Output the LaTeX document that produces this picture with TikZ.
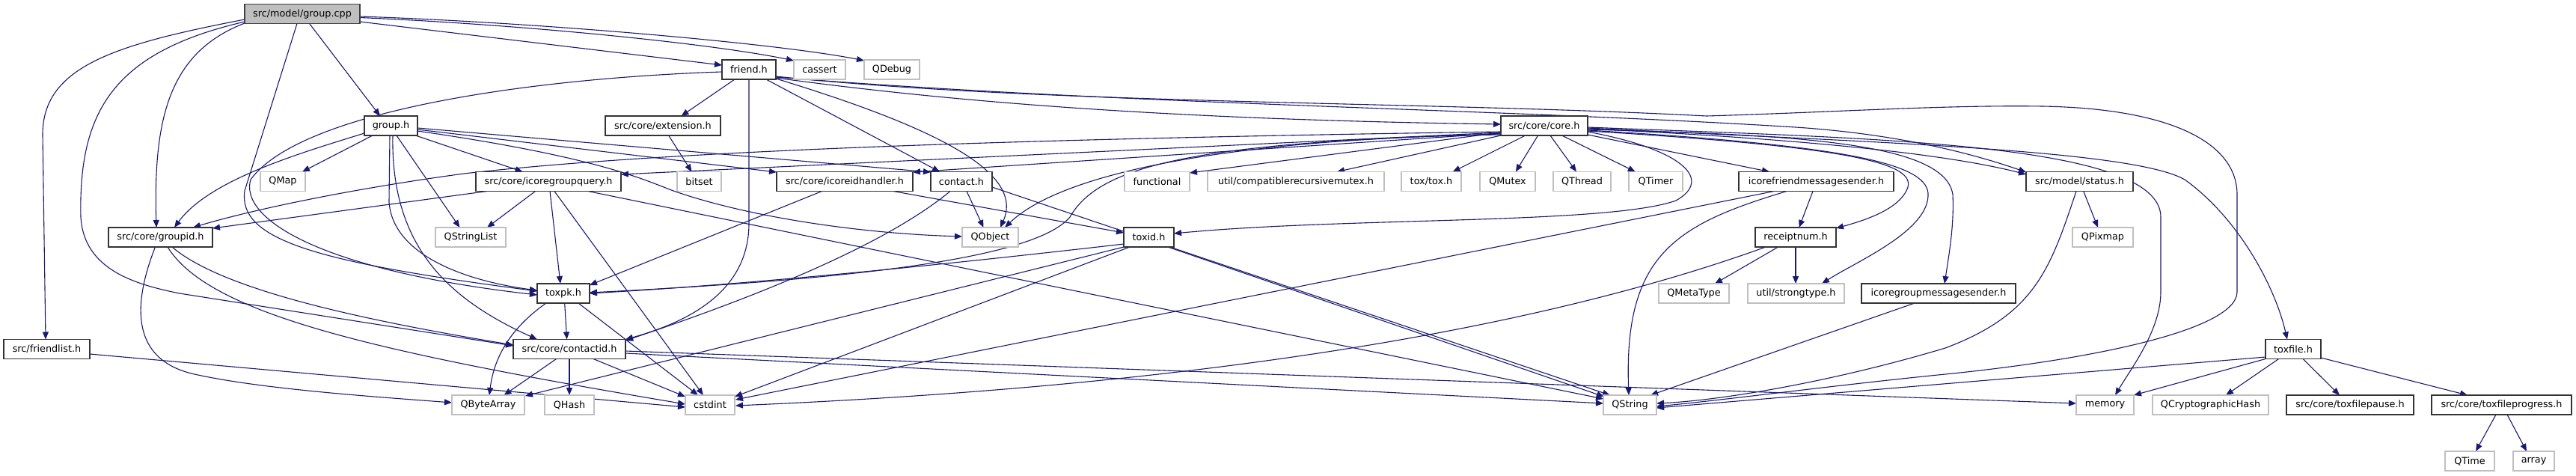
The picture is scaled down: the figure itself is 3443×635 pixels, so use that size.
\documentclass[tikz,border=0pt]{standalone}
\usepackage{fontspec}
\setmainfont{DejaVu Sans}
\usetikzlibrary{arrows.meta,calc}
\definecolor{edgec}{HTML}{191970}
\definecolor{extc}{HTML}{BFBFBF}
\definecolor{rootc}{HTML}{BFBFBF}
\pgfdeclarelayer{bg}
\pgfsetlayers{bg,main}
\begin{document}
\begin{tikzpicture}[x=1pt,y=-1pt,font=\fontsize{12.8}{15}\selectfont,
  box/.style={rectangle,minimum height=26pt,inner sep=0pt,outer sep=0pt,line width=1.4pt,text=black,fill=white},
  proj/.style={box,draw=black!80},
  extn/.style={box,draw=extc},
  root/.style={box,draw=black!75,fill=rootc},
  edge/.style={draw=edgec,line width=1.1pt,-{Triangle[length=10pt,width=8pt]}}]
\begin{pgfonlayer}{bg}
\fill[white] (0,0) rectangle (3443,635);
\end{pgfonlayer}
\useasboundingbox (0,0) rectangle (3443,635);
% row 0
\node[root,minimum width=154pt] (gcpp) at (404,18.5) {src/model/group.cpp};
% row 1
\node[proj,minimum width=72pt] (friendh) at (1001,93) {friend.h};
\node[extn,minimum width=69pt] (cassert) at (1095.5,93) {cassert};
\node[extn,minimum width=74pt] (qdebug) at (1192,93) {QDebug};
% row 2
\node[proj,minimum width=71pt] (grouph) at (522.5,168) {group.h};
\node[proj,minimum width=154pt] (ext) at (886,168) {src/core/extension.h};
\node[proj,minimum width=116pt] (core) at (2064,168) {src/core/core.h};
% row 3
\node[extn,minimum width=60pt] (qmap) at (378,242.5) {QMap};
\node[proj,minimum width=194pt] (icgq) at (733,242.5) {src/core/icoregroupquery.h};
\node[extn,minimum width=59pt] (bitset) at (934.5,242.5) {bitset};
\node[proj,minimum width=182pt] (icidh) at (1129,242.5) {src/core/icoreidhandler.h};
\node[proj,minimum width=82pt] (contact) at (1285,242.5) {contact.h};
\node[extn,minimum width=87pt] (functional) at (1546.5,242.5) {functional};
\node[extn,minimum width=236pt] (crm) at (1732,242.5) {util/compatiblerecursivemutex.h};
\node[extn,minimum width=80pt] (toxtox) at (1913,242.5) {tox/tox.h};
\node[extn,minimum width=74pt] (qmutex) at (2015,242.5) {QMutex};
\node[extn,minimum width=77pt] (qthread) at (2114.5,242.5) {QThread};
\node[extn,minimum width=72pt] (qtimer) at (2213,242.5) {QTimer};
\node[proj,minimum width=207pt] (icfms) at (2427.5,242.5) {icorefriendmessagesender.h};
\node[proj,minimum width=143pt] (status) at (2779.5,242.5) {src/model/status.h};
% row 4
\node[proj,minimum width=139pt] (groupid) at (214.5,317) {src/core/groupid.h};
\node[extn,minimum width=94pt] (qstringlist) at (629,317) {QStringList};
\node[extn,minimum width=75pt] (qobject) at (1323.5,317) {QObject};
\node[proj,minimum width=67pt] (toxid) at (1535.5,317) {toxid.h};
\node[proj,minimum width=108pt] (receipt) at (2400,317) {receiptnum.h};
\node[extn,minimum width=81pt] (qpixmap) at (2810.5,317) {QPixmap};
% row 5
\node[proj,minimum width=70pt] (toxpk) at (753,392) {toxpk.h};
\node[extn,minimum width=94pt] (qmetatype) at (2264,392) {QMetaType};
\node[extn,minimum width=129pt] (strongtype) at (2400.5,392) {util/strongtype.h};
\node[proj,minimum width=206pt] (icgms) at (2591,392) {icoregroupmessagesender.h};
% row 6
\node[proj,minimum width=115pt] (friendlist) at (62.5,466.5) {src/friendlist.h};
\node[proj,minimum width=150pt] (contactid) at (761,466.5) {src/core/contactid.h};
\node[proj,minimum width=74pt] (toxfile) at (3065,466.5) {toxfile.h};
% row 7
\node[extn,minimum width=97pt] (qbytearray) at (652.5,541) {QByteArray};
\node[extn,minimum width=66pt] (qhash) at (761,541) {QHash};
\node[extn,minimum width=66pt] (cstdint) at (949,541) {cstdint};
\node[extn,minimum width=71pt] (qstring) at (2178.5,541) {QString};
\node[extn,minimum width=77pt] (memory) at (2813.5,541) {memory};
\node[extn,minimum width=155pt] (qcrypto) at (2954.5,541) {QCryptographicHash};
\node[proj,minimum width=170pt] (toxfilepause) at (3141,541) {src/core/toxfilepause.h};
\node[proj,minimum width=187pt] (toxfileprogress) at (3343.5,541) {src/core/toxfileprogress.h};
% row 8
\node[extn,minimum width=66pt] (qtime) at (3301,616) {QTime};
\node[extn,minimum width=55pt] (array) at (3386.5,616) {array};

\begin{pgfonlayer}{bg}
% group.cpp
\draw[edge] ($(gcpp)+(9.6,13)$) -- ($(grouph)+(-14.5,-13)$);
\draw[edge] ($(gcpp)+(77,10.5)$) -- ($(friendh)+(-36,-6)$);
\draw[edge] ($(gcpp)+(77,5)$) .. controls (700,33) and (950,58) .. ($(cassert)+(-34.5,-12)$);
\draw[edge] ($(gcpp)+(77,3.5)$) .. controls (720,30) and (1040,58) .. ($(qdebug)+(-37,-12)$);
\draw[edge] ($(gcpp)+(-77,12.5)$) .. controls (225,70) and (205,160) .. ($(groupid)+(-5.5,-13)$);
\draw[edge] ($(gcpp)+(-77,7.5)$) .. controls (150,60) and (57,90) .. (57,180) -- ($(friendlist)+(-1.5,-13)$);
\draw[edge] ($(gcpp)+(-77,10.5)$) .. controls (150,70) and (105,150) .. (108,290) .. controls (112,360) and (180,380) .. (240,392) -- ($(contactid)+(-75,-4.5)$);
\draw[edge] ($(gcpp)+(-7,13)$) -- (327,255) .. controls (318,320) and (420,350) .. ($(toxpk)+(-35,-3)$);
% group.h
\draw[edge] ($(grouph)+(-24.5,13)$) -- ($(qmap)+(26,-13)$);
\draw[edge] ($(grouph)+(33,13)$) -- ($(icgq)+(-34.4,-13)$);
\draw[edge] ($(grouph)+(-35.5,10)$) .. controls (400,205) and (280,240) .. ($(groupid)+(18.5,-13)$);
\draw[edge] ($(grouph)+(7.5,13)$) -- ($(qstringlist)+(-14.5,-13)$);
\draw[edge] ($(grouph)+(-1.5,13)$) -- (520,270) .. controls (525,340) and (620,375) .. ($(toxpk)+(-35,-4)$);
\draw[edge] ($(grouph)+(2.5,13)$) .. controls (522,330) and (600,400) .. ($(contactid)+(-43,-13)$);
\draw[edge] ($(grouph)+(35.5,3)$) -- ($(contact)+(-41,-12.5)$);
\draw[edge] ($(grouph)+(35.5,5)$) -- ($(icidh)+(-91,-12.5)$);
\draw[edge] ($(grouph)+(35.5,7)$) .. controls (800,210) and (860,240) .. (900,255) .. controls (1000,290) and (1150,312) .. ($(qobject)+(-37.5,-1)$);
% friend.h
\draw[edge] ($(friendh)+(-19,13)$) -- ($(ext)+(24.5,-13)$);
\draw[edge] ($(friendh)+(23,13)$) -- ($(contact)+(-29,-13)$);
\draw[edge] ($(friendh)+(36,12)$) .. controls (1250,170) and (1370,230) .. ($(qobject)+(13.5,-13)$);
\draw[edge] ($(friendh)+(0,13)$) -- (1001,300) .. controls (1000,390) and (920,430) .. ($(contactid)+(75,-13)$);
\draw[edge] ($(friendh)+(36,11)$) .. controls (1300,140) and (1600,160) .. ($(core)+(-58,-2)$);
\draw[edge] ($(friendh)+(36,10)$) .. controls (1500,140) and (2000,145) .. (2400,170) .. controls (2550,180) and (2650,210) .. ($(status)+(-71.5,-12.5)$);
\draw[edge] ($(friendh)+(36,9)$) .. controls (1400,140) and (1900,135) .. (2281,155) .. controls (2450,150) and (2600,140) .. (2730,142) .. controls (2900,145) and (2990,190) .. (2990,260) -- (2990,390) .. controls (2990,440) and (2800,480) .. (2600,500) .. controls (2450,515) and (2300,535) .. ($(qstring)+(35.5,2)$);
\draw[edge] ($(friendh)+(-36,3)$) .. controls (700,105) and (400,150) .. (335,240) .. controls (320,290) and (420,360) .. ($(toxpk)+(-35,2)$);
% extension.h
\draw[edge] ($(ext)+(7.7,13)$) -- ($(bitset)+(-10,-13)$);
% core.h
\draw[edge] ($(core)+(-58,8)$) .. controls (1400,185) and (900,200) .. (620,232) .. controls (450,255) and (320,285) .. ($(groupid)+(43.5,-13)$);
\draw[edge] ($(core)+(-58,9)$) -- ($(icgq)+(97,-9.5)$);
\draw[edge] ($(core)+(-58,10)$) -- ($(icidh)+(91,-12.5)$);
\draw[edge] ($(core)+(-58,11)$) .. controls (1600,190) and (1470,220) .. (1430,290) .. controls (1380,350) and (1100,375) .. ($(toxpk)+(35,-1)$);
\draw[edge] ($(core)+(-58,12)$) .. controls (1650,185) and (1420,230) .. ($(qobject)+(19.5,-13)$);
\draw[edge] ($(core)+(-58,9)$) -- ($(functional)+(43.5,-11.5)$);
\draw[edge] ($(core)+(-58,13)$) -- ($(crm)+(55,-13)$);
\draw[edge] ($(core)+(-25.3,13)$) -- ($(toxtox)+(28.7,-13)$);
\draw[edge] ($(core)+(-8.4,13)$) -- ($(qmutex)+(10.8,-13)$);
\draw[edge] ($(core)+(8,13)$) -- ($(qthread)+(-7.5,-13)$);
\draw[edge] ($(core)+(23.6,13)$) -- ($(qtimer)+(-27.2,-13)$);
\draw[edge] ($(core)+(58,12)$) -- ($(icfms)+(-62.5,-13)$);
\draw[edge] ($(core)+(58,8)$) .. controls (2250,200) and (2290,240) .. (2240,268) .. controls (2150,300) and (1800,290) .. ($(toxid)+(33.5,-5)$);
\draw[edge] ($(core)+(58,7)$) .. controls (2450,195) and (2560,215) .. (2550,250) .. controls (2540,280) and (2490,295) .. ($(receipt)+(54,-12)$);
\draw[edge] ($(core)+(58,6)$) .. controls (2480,195) and (2580,220) .. (2577,262) .. controls (2575,310) and (2480,350) .. ($(strongtype)+(34.5,-13)$);
\draw[edge] ($(core)+(58,5)$) .. controls (2400,180) and (2600,190) .. (2610,260) .. controls (2612,300) and (2605,340) .. ($(icgms)+(8,-13)$);
\draw[edge] ($(core)+(58,4)$) .. controls (2400,185) and (2600,205) .. ($(status)+(-71.5,-9.5)$);
\draw[edge] ($(core)+(58,3)$) .. controls (2500,190) and (2850,200) .. (2920,240) .. controls (2990,290) and (3040,380) .. ($(toxfile)+(-8,-13)$);
\draw[edge] ($(core)+(58,2)$) .. controls (2500,185) and (2888,190) .. (2888,290) -- (2888,390) .. controls (2888,440) and (2850,490) .. ($(memory)+(13.5,-13)$);
% icoregroupquery.h
\draw[edge] ($(icgq)+(-17.5,13)$) -- ($(qstringlist)+(22,-13)$);
\draw[edge] ($(icgq)+(-82,13)$) -- ($(groupid)+(69.5,-12)$);
\draw[edge] ($(icgq)+(2,13)$) -- ($(toxpk)+(-4,-13)$);
\draw[edge] ($(icgq)+(8,13)$) -- ($(cstdint)+(-9,-13)$);
\draw[edge] ($(icgq)+(53,13)$) -- ($(qstring)+(-35.5,-8)$);
% icoreidhandler.h
\draw[edge] ($(icidh)+(-30.5,13)$) -- ($(toxpk)+(35,-11)$);
\draw[edge] ($(icidh)+(65,13)$) -- ($(toxid)+(-33.5,-6)$);
% contact.h
\draw[edge] ($(contact)+(7,13)$) -- ($(qobject)+(-9,-13)$);
\draw[edge] ($(contact)+(-15,13)$) .. controls (1180,330) and (1000,400) .. ($(contactid)+(75,-11.5)$);
\draw[edge] ($(contact)+(41,7.5)$) -- ($(qstring)+(-26.5,-13)$);
% groupid.h
\draw[edge] ($(groupid)+(-7,13)$) .. controls (180,400) and (170,480) .. (260,500) .. controls (350,520) and (500,530) .. ($(qbytearray)+(-48.5,-3)$);
\draw[edge] ($(groupid)+(15.5,13)$) .. controls (300,390) and (500,430) .. ($(contactid)+(-75,-5.5)$);
\draw[edge] ($(groupid)+(9.5,13)$) .. controls (280,420) and (500,470) .. ($(cstdint)+(-33,-1)$);
% friendlist.h
\draw[edge] ($(friendlist)+(57.5,6.5)$) -- ($(cstdint)+(-33,3)$);
% toxpk.h
\draw[edge] ($(toxpk)+(-23,13)$) .. controls (680,440) and (660,480) .. ($(qbytearray)+(1.5,-13)$);
\draw[edge] ($(toxpk)+(1.7,13)$) -- ($(contactid)+(-3.4,-13)$);
\draw[edge] ($(toxpk)+(20,13)$) -- ($(cstdint)+(-16,-13)$);
% toxid.h
\draw[edge] ($(toxid)+(-33.5,9)$) .. controls (1250,355) and (1000,380) .. ($(toxpk)+(35,0)$);
\draw[edge] ($(toxid)+(-33.5,13)$) -- ($(qbytearray)+(49.5,-12)$);
\draw[edge] ($(toxid)+(-25.5,13)$) -- ($(cstdint)+(33,-11)$);
\draw[edge] ($(toxid)+(25.5,13)$) -- ($(qstring)+(-34.5,-11)$);
% contactid.h
\draw[edge] ($(contactid)+(-17.4,13)$) -- ($(qbytearray)+(21,-13)$);
\draw[edge] ($(contactid)+(0,13)$) -- ($(qhash)+(0,-13)$);
\draw[edge] ($(contactid)+(32,13)$) -- ($(cstdint)+(-33,-11)$);
\draw[edge] ($(contactid)+(75,5.5)$) -- ($(qstring)+(-35.5,-2)$);
\draw[edge] ($(contactid)+(75,2.5)$) -- ($(memory)+(-38.5,-2)$);
% icorefriendmessagesender.h
\draw[edge] ($(icfms)+(-4.5,13)$) -- ($(receipt)+(4.6,-13)$);
\draw[edge] ($(icfms)+(-39.5,13)$) .. controls (2240,300) and (2170,340) .. ($(qstring)+(-1.5,-13)$);
\draw[edge] ($(icfms)+(-56.5,13)$) -- ($(cstdint)+(34,-7)$);
% receiptnum.h
\draw[edge] ($(receipt)+(-23.4,13)$) -- ($(qmetatype)+(28,-13)$);
\draw[edge] ($(receipt)+(0,13)$) -- ($(strongtype)+(-0.5,-13)$);
\draw[edge] ($(receipt)+(-40,13)$) .. controls (2000,460) and (1500,520) .. ($(cstdint)+(34,1)$);
% icoregroupmessagesender.h
\draw[edge] ($(icgms)+(-32,13)$) -- ($(qstring)+(27.5,-13)$);
% status.h
\draw[edge] ($(status)+(5.2,13)$) -- ($(qpixmap)+(-6.5,-13)$);
\draw[edge] ($(status)+(-4.5,13)$) .. controls (2740,360) and (2720,420) .. (2600,465) .. controls (2450,510) and (2300,535) .. ($(qstring)+(35.5,-2)$);
% toxfile.h
\draw[edge] ($(toxfile)+(-37,10.5)$) -- ($(qstring)+(35.5,4)$);
\draw[edge] ($(toxfile)+(-37,13)$) -- ($(memory)+(38.5,-13)$);
\draw[edge] ($(toxfile)+(-19.4,13)$) -- ($(qcrypto)+(20.5,-13)$);
\draw[edge] ($(toxfile)+(13,13)$) -- ($(toxfilepause)+(-14,-13)$);
\draw[edge] ($(toxfile)+(37,11.5)$) -- ($(toxfileprogress)+(-45.5,-13)$);
% toxfileprogress.h
\draw[edge] ($(toxfileprogress)+(-7.5,13)$) -- ($(qtime)+(8,-13)$);
\draw[edge] ($(toxfileprogress)+(7.5,13)$) -- ($(array)+(-9.5,-13)$);
\end{pgfonlayer}
\end{tikzpicture}
\end{document}
